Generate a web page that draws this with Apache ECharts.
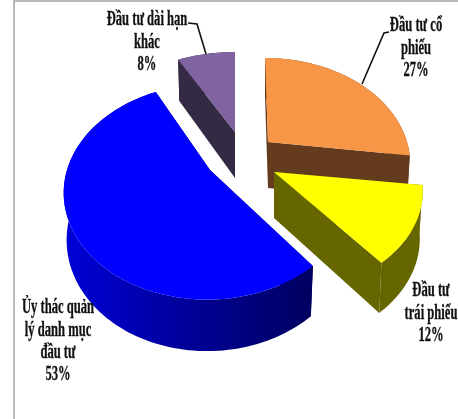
<!DOCTYPE html>
<html>
<head>
<meta charset="utf-8">
<style>html,body{margin:0;padding:0;background:#fff}#chart{width:458px;height:419px}</style>
<script src="https://cdn.jsdelivr.net/npm/echarts@6/dist/echarts.min.js"></script>
</head>
<body>
<div id="chart"></div>
<script>
// Investment portfolio shares, clockwise from twelve o'clock
const categories = ['Đầu tư cổ phiếu', 'Đầu tư trái phiếu', 'Ủy thác quản lý danh mục đầu tư', 'Đầu tư dài hạn khác'];
const values = [27, 12, 53, 8];
const topColors = ['#F79646', '#FFFF00', '#0000FF', '#8064A2'];
const labelLines = [
  ['Đầu tư cổ', 'phiếu'],
  ['Đầu tư', 'trái phiếu'],
  ['Ủy thác quản', 'lý danh mục', 'đầu tư'],
  ['Đầu tư dài hạn', 'khác']
];

// Per-slice projection of the tilted, exploded disc
const layout = [
  { cx: 268, cy: 142, rx: 139, ry: 105, lean: -3, side: '#653B1D', lx: 416, ly: 26, lead: [[389, 32], [384, 33], [362, 84]] },
  { cx: 274, cy: 172, rx: 146, ry: 102, lean: 0, side: '#666600', lx: 431, ly: 291 },
  { cx: 210, cy: 170, rx: 143, ry: 108, lean: 3, side: null, lx: 58, ly: 308 },
  { cx: 235, cy: 132, rx: 143, ry: 100, lean: 0, side: '#352A44', lx: 147, ly: 20, lead: [[188, 23], [197, 24], [206, 54]] }
];
const PERSPECTIVE = 0.2, DEPTH = 46, DEPTH_TAPER = 0.12, FLOOR_SCALE = 0.98, LINE_STEP = 22.4;
const FONT = 'bold 20px "Liberation Serif"', SQUEEZE = 0.63;
const drawOrder = [3, 0, 2, 1];

const total = values.reduce((a, b) => a + b, 0);
const starts = values.map((_, i) => values.slice(0, i).reduce((a, b) => a + b, 0) / total * 2 * Math.PI);

function rim(g, t) {
  const s = Math.sin(t), c = Math.cos(t), f = 1 - PERSPECTIVE * c;
  return [g.cx + g.rx * s * f + g.lean * c, g.cy - g.ry * c * f];
}
function rimFloor(g, t) {
  const p = rim(g, t);
  return [g.cx + (p[0] - g.cx) * FLOOR_SCALE, p[1] + DEPTH * (1 - DEPTH_TAPER * Math.cos(t))];
}
function arc(fn, g, a, b) {
  const pts = [], n = Math.max(8, Math.ceil((b - a) / 0.03));
  for (let i = 0; i <= n; i++) pts.push(fn(g, a + (b - a) * i / n));
  return pts;
}
const poly = (points, fill) => ({ type: 'polygon', shape: { points }, style: { fill, stroke: null } });

function renderSlice(params) {
  const i = drawOrder[params.dataIndex];
  const g = layout[i];
  const a = starts[i], b = a + values[i] / total * 2 * Math.PI;
  const top = arc(rim, g, a, b), floor = arc(rimFloor, g, a, b);
  const apex = [g.cx, g.cy], apexFloor = [g.cx, g.cy + DEPTH];
  const wallFill = g.side || new echarts.graphic.LinearGradient(0, 0, 1, 0, [
    { offset: 0, color: '#0000D8' }, { offset: 0.5, color: '#000098' }, { offset: 1, color: '#000060' }
  ]);
  const flat = g.side || '#000060';
  const children = [
    poly([apex, top[0], floor[0], apexFloor], flat),
    poly([apex, top[top.length - 1], floor[floor.length - 1], apexFloor], flat),
    poly(top.concat(floor.slice().reverse()), wallFill),
    poly([apex].concat(top), topColors[i])
  ];
  if (g.lead) {
    children.push({ type: 'polyline', shape: { points: g.lead }, style: { stroke: '#111', lineWidth: 1.6, fill: null } });
  }
  labelLines[i].concat(values[i] + '%').forEach((line, k) => {
    children.push({
      type: 'text', x: g.lx, y: g.ly + k * LINE_STEP, scaleX: SQUEEZE,
      style: { text: line, x: 0, y: 0, align: 'center', verticalAlign: 'middle', font: FONT, fill: '#111', stroke: '#111', lineWidth: 0.3 }
    });
  });
  return { type: 'group', children };
}

const chart = echarts.init(document.getElementById('chart'), null, { renderer: 'canvas' });
chart.setOption({
  animation: false,
  backgroundColor: '#fff',
  graphic: [
    { type: 'polyline', shape: { points: [[14, 419], [14, 1], [458, 1]] }, style: { stroke: '#a3a3a3', lineWidth: 1.5, fill: null } }
  ],
  series: [{
    type: 'custom',
    coordinateSystem: 'none',
    renderItem: renderSlice,
    silent: true,
    data: drawOrder.map(i => ({ name: categories[i], value: values[i] }))
  }]
});
</script>
</body>
</html>
